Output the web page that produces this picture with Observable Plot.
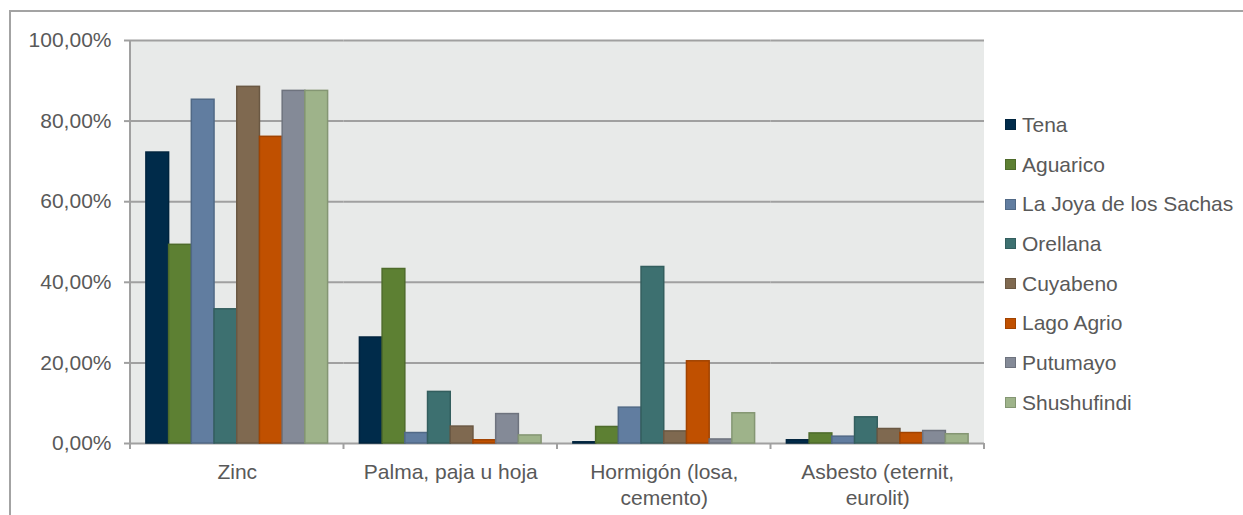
<!DOCTYPE html>
<html>
<head>
<meta charset="utf-8">
<script src="https://cdn.jsdelivr.net/npm/d3@7"></script>
<script src="https://cdn.jsdelivr.net/npm/@observablehq/plot@0.6"></script>
<style>
  html, body { margin: 0; padding: 0; background: #fff; }
  #wrap { position: relative; width: 1243px; height: 515px; overflow: hidden; font-family: "Liberation Sans", Arial, sans-serif; }
  #border { position: absolute; left: 9px; top: 10px; width: 1400px; height: 600px; border-left: 2px solid #a3a3a3; border-top: 2px solid #a3a3a3; box-sizing: border-box; }
  #chart { position: absolute; left: 0; top: 0; }
  #legend { position: absolute; left: 1005px; top: 105px; }
  .row { height: 39.7px; display: flex; align-items: center; font-size: 21px; color: #595959; white-space: nowrap; }
  .sw { width: 11px; height: 11px; box-sizing: border-box; border: 1px solid; margin-right: 6px; }
</style>
</head>
<body>
<div id="wrap">
  <div id="border"></div>
  <div id="chart"></div>
  <div id="legend"></div>
</div>
<script>
// ---- data ----
const categories = ["Zinc", "Palma, paja u hoja", "Hormigón (losa, cemento)", "Asbesto (eternit, eurolit)"];
const categoryLabels = ["Zinc", "Palma, paja u hoja", "Hormigón (losa,\ncemento)", "Asbesto (eternit,\neurolit)"];
const series = ["Tena", "Aguarico", "La Joya de los Sachas", "Orellana", "Cuyabeno", "Lago Agrio", "Putumayo", "Shushufindi"];
const tena        = [72.2, 26.3, 0.3, 0.8];
const aguarico    = [49.3, 43.3, 4.1, 2.5];
const laJoya      = [85.3, 2.6, 8.9, 1.7];
const orellana    = [33.3, 12.8, 43.8, 6.5];
const cuyabeno    = [88.5, 4.2, 3.0, 3.6];
const lagoAgrio   = [76.1, 0.8, 20.4, 2.6];
const putumayo    = [87.5, 7.3, 1.0, 3.1];
const shushufindi = [87.5, 2.0, 7.5, 2.3];
const yTicks = [0, 20, 40, 60, 80, 100];
const colors = ["#002b4a", "#5d8033", "#617da0", "#3d7070", "#7f6950", "#c05000", "#848a97", "#9eb38a"];

// ---- build table ----
const valueSets = [tena, aguarico, laJoya, orellana, cuyabeno, lagoAgrio, putumayo, shushufindi];
const data = [];
series.forEach((s, i) => categories.forEach((c, j) => data.push({series: s, category: c, value: valueSets[i][j]})));
const fillOf = Object.fromEntries(series.map((s, i) => [s, colors[i]]));
const strokeOf = Object.fromEntries(series.map((s, i) => [s, d3.color(colors[i]).darker(0.5).formatHex()]));
const labelOf = Object.fromEntries(categories.map((c, i) => [c, categoryLabels[i]]));

const gray = "#a0a0a0";
const textColor = "#595959";
const bg = "#e8eae9";

const plot = Plot.plot({
  width: 1243,
  height: 515,
  marginLeft: 130,
  marginRight: 259,
  marginTop: 40,
  marginBottom: 72,
  style: {fontFamily: "'Liberation Sans', Arial, sans-serif", fontSize: "21px", background: "transparent"},
  fx: {domain: categories, padding: 0, label: null, round: false},
  x: {domain: series, paddingInner: 0, paddingOuter: 0.7, round: false, axis: null},
  y: {domain: [0, 100], label: null},
  color: {type: "identity"},
  marks: [
    Plot.gridY(yTicks, {stroke: gray, strokeWidth: 2, strokeOpacity: 1}),
    Plot.barY(data, {
      fx: "category", x: "series", y: "value",
      fill: d => fillOf[d.series], stroke: d => strokeOf[d.series], strokeWidth: 1.5
    }),
    Plot.axisY(yTicks, {
      tickSize: 6, tickPadding: 13, fontSize: 21, stroke: gray, strokeWidth: 2, fill: textColor,
      tickFormat: d => d.toFixed(2).replace(".", ",") + "%", label: null
    }),
    Plot.axisFx({
      anchor: "bottom", tickSize: 0, tickPadding: 17, fontSize: 21, fill: textColor,
      lineHeight: 1.25, tickFormat: c => labelOf[c], label: null
    })
  ]
});
document.getElementById("chart").appendChild(plot);

// plot-area background, axis line & category-boundary ticks, positioned from Plot's own scales
const fx = plot.scale("fx"), y = plot.scale("y");
const y0 = y.apply(0), y100 = y.apply(100);
const bounds = categories.map(c => fx.apply(c));
bounds.push(fx.apply(categories[categories.length - 1]) + fx.bandwidth);
d3.select(plot).insert("rect", ":first-child")
  .attr("x", bounds[0]).attr("y", y100)
  .attr("width", bounds[bounds.length - 1] - bounds[0]).attr("height", y0 - y100)
  .attr("fill", bg);
const g = d3.select(plot).append("g").attr("stroke", gray).attr("stroke-width", 2);
g.append("line").attr("x1", bounds[0]).attr("x2", bounds[0]).attr("y1", y100).attr("y2", y0 + 6);
bounds.forEach(b => g.append("line").attr("x1", b).attr("x2", b).attr("y1", y0).attr("y2", y0 + 6));

// legend
const legend = d3.select("#legend");
series.forEach(s => {
  const r = legend.append("div").attr("class", "row");
  r.append("div").attr("class", "sw").style("background", fillOf[s]).style("border-color", strokeOf[s]);
  r.append("span").text(s);
});
</script>
</body>
</html>
